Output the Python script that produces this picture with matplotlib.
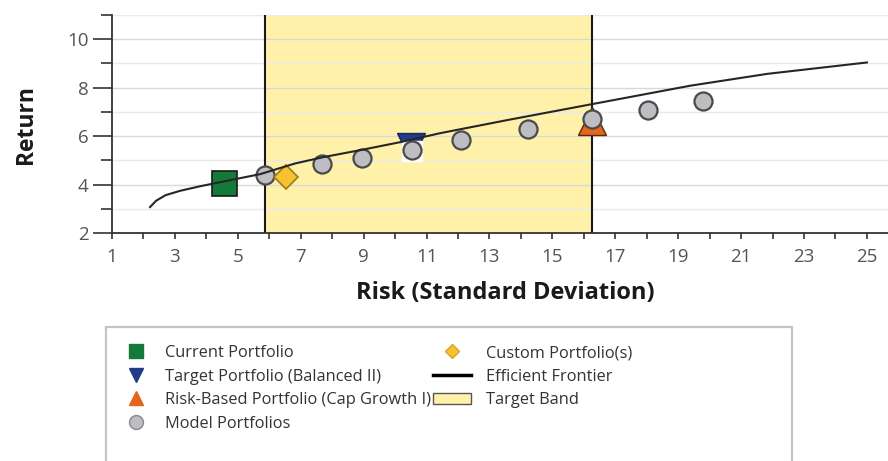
import matplotlib
matplotlib.use("Agg")
import matplotlib.pyplot as plt
from matplotlib.lines import Line2D
from matplotlib.patches import Patch, Rectangle
from matplotlib.ticker import FixedLocator

plt.rcParams["font.family"] = ["Open Sans", "DejaVu Sans"]

# Efficient frontier (risk, return)
frontier_risk = [2.21, 2.40, 2.70, 3.16, 3.80, 4.56, 5.71, 6.82, 7.71, 8.89,
                 10.16, 11.43, 13.56, 16.26, 19.38, 21.83, 25.0]
frontier_return = [3.07, 3.33, 3.56, 3.74, 3.93, 4.13, 4.43, 4.87, 5.13, 5.42,
                   5.75, 6.12, 6.66, 7.32, 8.08, 8.57, 9.04]

# Model portfolios
model_risk = [5.86, 7.67, 8.95, 10.55, 12.10, 14.23, 16.26, 18.04, 19.79]
model_return = [4.40, 4.85, 5.09, 5.42, 5.84, 6.28, 6.72, 7.07, 7.44]

current_risk, current_return = [4.56], [4.06]
target_risk, target_return = [10.50], [5.57]
riskbased_risk, riskbased_return = [16.26], [6.64]
custom_risk, custom_return = [6.53], [4.33]

# Target risk band
band_low, band_high = 5.86, 16.26

x_ticks = [1, 3, 5, 7, 9, 11, 13, 15, 17, 19, 21, 23, 25]
y_ticks = [2, 4, 6, 8, 10]

legend_left = ["Current Portfolio", "Target Portfolio (Balanced II)",
               "Risk-Based Portfolio (Cap Growth I)", "Model Portfolios"]
legend_right = ["Custom Portfolio(s)", "Efficient Frontier", "Target Band"]

GREEN = "#147A3A"
BLUE = "#1F3C88"
ORANGE = "#E2661B"
GREY = "#BDBDC2"
GOLD = "#F6C232"
BAND = "#FFF1AA"

fig = plt.figure(figsize=(8.88, 4.61), dpi=100)
W, H = 888, 461
ax = fig.add_axes([112 / W, 1 - 233 / H, (W - 112) / W, (233 - 15) / H])
ax.set_xlim(1, 25.67)
ax.set_ylim(2, 11)

for s in ("top", "right"):
    ax.spines[s].set_visible(False)
for s in ("left", "bottom"):
    ax.spines[s].set_color("#333333")
    ax.spines[s].set_linewidth(1.3)

ax.xaxis.set_major_locator(FixedLocator(x_ticks))
ax.xaxis.set_minor_locator(FixedLocator([t + 1 for t in x_ticks[:-1]]))
ax.yaxis.set_major_locator(FixedLocator(y_ticks))
ax.yaxis.set_minor_locator(FixedLocator([t + 1 for t in y_ticks]))
ax.tick_params(axis="x", which="both", length=4, width=1.2, color="#333333",
               labelsize=13.5, labelcolor="#555555", pad=7)
ax.tick_params(axis="y", which="major", length=14, width=1.2, color="#333333",
               labelsize=13.5, labelcolor="#555555", pad=3)
ax.tick_params(axis="y", which="minor", length=8, width=1.2, color="#333333")

ax.set_axisbelow(True)
ax.grid(axis="y", which="major", color="#D8D8D8", lw=1.0)
ax.grid(axis="y", which="minor", color="#EAEAEA", lw=1.0)

ax.axvspan(band_low, band_high, color=BAND, zorder=0.3, lw=0)
for xb in (band_low, band_high):
    ax.axvline(xb, color="#1A1A1A", lw=1.5, zorder=2)

ax.plot(target_risk, target_return, "v", ms=20, mfc=BLUE, mec="#15285a",
        mew=1, zorder=3)
ax.plot(riskbased_risk, riskbased_return, "^", ms=20, mfc=ORANGE, mec="#5a2a0a",
        mew=1, zorder=3)
ax.plot(model_risk[3], model_return[3] - 0.05, "s", ms=15, mfc="white",
        mec="white", zorder=3.5)
ax.plot(model_risk, model_return, "o", ms=13, mfc=GREY, mec="#4a4a4a",
        mew=1.6, zorder=4)
ax.plot(current_risk, current_return, "s", ms=18, mfc=GREEN, mec="#1a1a1a",
        mew=1.2, zorder=4)
ax.plot(custom_risk, custom_return, "D", ms=12, mfc=GOLD, mec="#9c7a14",
        mew=1.2, zorder=4)
ax.plot(frontier_risk, frontier_return, color="#262626", lw=1.5, zorder=5)

ax.set_xlabel("Risk (Standard Deviation)", fontsize=17, fontweight="bold",
              color="#1a1a1a")
ax.xaxis.set_label_coords((505 - 112) / 776, (233 - 281) / 218)
ax.set_ylabel("Return", fontsize=16.5, fontweight="bold", color="#1a1a1a")
ax.yaxis.set_label_coords((38 - 112) / 776, 0.5)

# Legend box (runs off the lower edge)
fig.patches.append(Rectangle((106 / W, -0.2), (792 - 106) / W, 0.2 + (1 - 327 / H),
                             transform=fig.transFigure, fill=False,
                             edgecolor="#C4C4C4", lw=1.6))

handles_left = [
    Line2D([], [], ls="none", marker="s", ms=10, mfc=GREEN, mec=GREEN),
    Line2D([], [], ls="none", marker="v", ms=10, mfc=BLUE, mec=BLUE),
    Line2D([], [], ls="none", marker="^", ms=10, mfc=ORANGE, mec=ORANGE),
    Line2D([], [], ls="none", marker="o", ms=10, mfc=GREY, mec="#888888"),
]
handles_right = [
    Line2D([], [], ls="none", marker="D", ms=7, mfc=GOLD, mec="#d9a520"),
    Line2D([], [], color="black", lw=2.5),
    Patch(facecolor=BAND, edgecolor="#555555", lw=1),
]
common = dict(loc="upper left", frameon=False, fontsize=11.8,
              labelcolor="#333333", labelspacing=0.46, borderpad=0,
              borderaxespad=0)
fig.legend(handles_left, legend_left, bbox_to_anchor=(120 / W, 1 - 345 / H),
           handlelength=2.0, handletextpad=0.75, **common)
fig.legend(handles_right, legend_right, bbox_to_anchor=(433 / W, 1 - 345 / H),
           handlelength=2.3, handletextpad=0.95, **common)

fig.savefig("out.png", dpi=100)
